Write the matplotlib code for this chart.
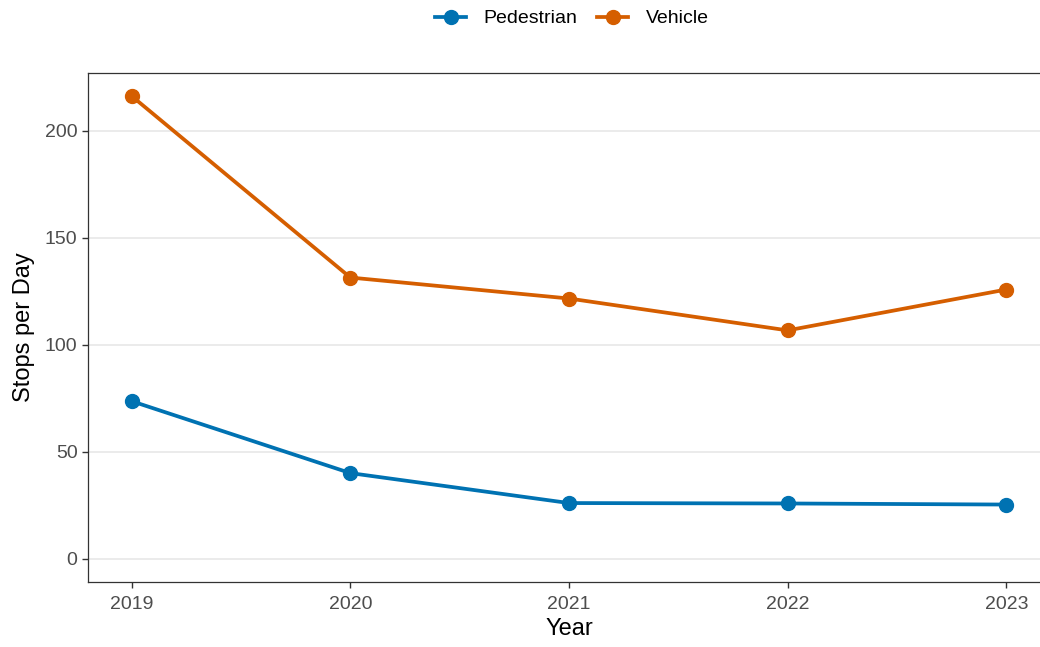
import matplotlib
matplotlib.use('Agg')
import matplotlib.pyplot as plt

# stops per day by year
years = [2019, 2020, 2021, 2022, 2023]
pedestrian = [73.7, 40.1, 26.1, 25.9, 25.4]
vehicle = [216.3, 131.5, 121.7, 106.8, 125.9]

plt.rcParams['font.family'] = ['Liberation Sans', 'DejaVu Sans']

fig = plt.figure(figsize=(10.4, 6.47), dpi=100)
ax = fig.add_axes([88 / 1040, 1 - 582 / 647, (1050 - 88) / 1040, (582 - 73) / 647])

ax.plot(years, pedestrian, color='#0072B2', lw=2.7, marker='o', ms=10, label='Pedestrian')
ax.plot(years, vehicle, color='#D55E00', lw=2.7, marker='o', ms=10, label='Vehicle')

ax.set_xlim(2018.8, 2023.2)
ax.set_ylim(-10.8, 227.1)
ax.set_xticks(years)
ax.set_yticks([0, 50, 100, 150, 200])
ax.grid(axis='y', color='#EBEBEB', lw=1.4)
ax.set_axisbelow(True)
for s in ax.spines.values():
    s.set_color('#333333')
    s.set_linewidth(0.9)
ax.tick_params(colors='#333333', labelcolor='#4D4D4D', labelsize=14, length=4, width=1)
ax.tick_params(axis='x', pad=6)
ax.set_xlabel('Year', fontsize=17, labelpad=4)
ax.set_ylabel('Stops per Day', fontsize=17, labelpad=7)

fig.legend(loc='upper center', bbox_to_anchor=(0.55, 1.012), ncol=2, frameon=False,
           fontsize=14, handlelength=1.6, columnspacing=1.0, handletextpad=0.9)

fig.savefig('out.png', dpi=100)
